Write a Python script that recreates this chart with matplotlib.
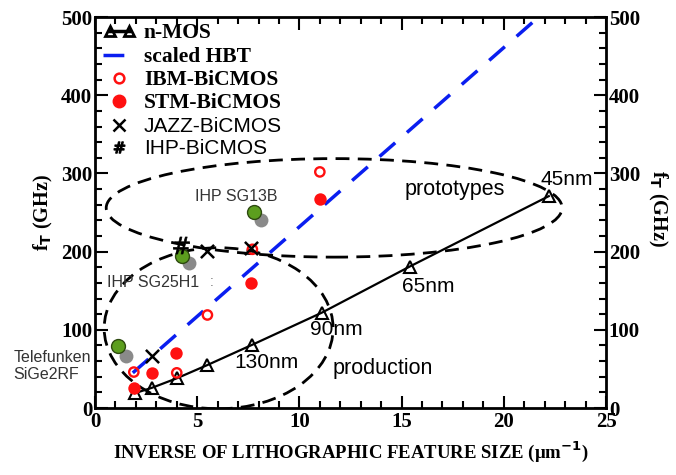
import matplotlib
matplotlib.use('Agg')
import numpy as np
from matplotlib import pyplot as plt
from matplotlib.patches import Ellipse
from matplotlib.lines import Line2D
from matplotlib.legend_handler import HandlerLine2D

# n-MOS roadmap points (inverse feature size, fT)
nmos_x = [1.95, 2.8, 4.0, 5.5, 7.7, 11.1, 15.4, 22.2]
nmos_y = [19, 26, 38, 55, 81, 122, 181, 271]

# scaled HBT trend line
hbt_x = [1.85, 21.7]
hbt_y = [45, 500]

ibm_x = [1.9, 4.0, 5.5, 7.7, 11.0]
ibm_y = [46, 45, 119, 203, 302]

stm_x = [1.9, 2.8, 3.95, 7.65, 11.0]
stm_y = [26, 45, 71, 160, 267]

jazz_x = [2.8, 5.5, 7.65]
jazz_y = [67, 201, 205]

ihp_x = [4.2]
ihp_y = [209]

# highlighted processes (green) and their grey shadows
green_x = [1.13, 4.28, 7.77]
green_y = [79, 194, 251]
gray_x = [1.5, 4.6, 8.1]
gray_y = [67, 186, 241]

# (center x, center y, width, height)
proto_ellipse = (11.7, 256, 22.3, 126)
prod_ellipse = (6.05, 102, 11.2, 206)

node_labels = ['45nm', '65nm', '90nm', '130nm']
node_label_x = [23.1, 16.3, 11.8, 8.4]
node_label_y = [292, 155, 100, 58]

serif = 'Liberation Serif'
sans = 'Liberation Sans'

fig = plt.figure(figsize=(6.76, 4.75), dpi=100)
ax = fig.add_axes([0.1405, 0.141, 0.756, 0.823])

ax.set_xlim(0, 25)
ax.set_ylim(0, 500)

# ellipses
for cx, cy, w, h in [proto_ellipse, prod_ellipse]:
    ax.add_patch(Ellipse((cx, cy), w, h, fill=False, ec='black', lw=2,
                         linestyle=(0, (5, 3)), zorder=2))

ax.plot(hbt_x, hbt_y, color='#0a1ef0', lw=2.5, dashes=(6, 4.5), zorder=3)
ax.plot(nmos_x, nmos_y, color='black', lw=1.6, marker='^', ms=8,
        mfc='none', mec='black', mew=1.5, zorder=4)

ax.scatter(gray_x, gray_y, s=100, color='#8a8a8a', zorder=4, lw=0)
ax.scatter(green_x, green_y, s=100, color='#5c9e1e', edgecolor='#2e4a10',
           lw=1, zorder=5)

ax.scatter(ibm_x, ibm_y, s=45, facecolor='none', edgecolor='#ff1010', lw=1.7, zorder=5)
ax.scatter(stm_x, stm_y, s=80, color='#ff1010', lw=0, zorder=5)
ax.scatter(jazz_x, jazz_y, s=90, marker='x', color='black', lw=1.8, zorder=6)
ax.scatter(ihp_x, ihp_y, s=150, marker='$\\#$', color='black', lw=0.5, zorder=6)

# text annotations
for lab, lx, ly in zip(node_labels, node_label_x, node_label_y):
    ax.text(lx, ly, lab, family=sans, fontsize=15, ha='center', va='center', zorder=7)
ax.text(17.6, 279, 'prototypes', family=sans, fontsize=15.5, ha='center', va='center')
ax.text(14.1, 51, 'production', family=sans, fontsize=15.5, ha='center', va='center')
ax.text(6.9, 271, 'IHP SG13B', family=sans, fontsize=11.5, color='#333333',
        ha='center', va='center')
ax.text(2.85, 161, 'IHP SG25H1', family=sans, fontsize=11.5, color='#333333',
        ha='center', va='center')
ax.text(5.7, 161, ':', family=sans, fontsize=10, color='#777777', ha='center', va='center')
ax.text(-4.0, 54, 'Telefunken\nSiGe2RF', family=sans, fontsize=11.5, color='#333333',
        ha='left', va='center', linespacing=1.15, clip_on=False)

# legend
handles = [
    Line2D([], [], color='black', lw=2.5, marker='^', ms=7, mfc='none', mew=2),
    Line2D([], [], color='#0a1ef0', lw=2.5, dashes=(6, 50)),
    Line2D([], [], ls='none', marker='o', ms=7, mfc='none', mec='#ff1010', mew=1.8),
    Line2D([], [], ls='none', marker='o', ms=9, color='#ff1010'),
    Line2D([], [], ls='none', marker='x', ms=8, color='black', mew=1.8),
    Line2D([], [], ls='none', marker='$\\#$', ms=8, color='black'),
]
labels = ['n-MOS', 'scaled HBT', 'IBM-BiCMOS', 'STM-BiCMOS', 'JAZZ-BiCMOS', 'IHP-BiCMOS']
leg = ax.legend(handles, labels, loc='upper left', frameon=False, handlelength=1.55,
                handletextpad=0.4, labelspacing=0.16, borderaxespad=0.0,
                bbox_to_anchor=(0.0, 1.005), numpoints=1, prop={'size': 15},
                handler_map={handles[0]: HandlerLine2D(numpoints=2)})
for i, t in enumerate(leg.get_texts()):
    if i < 4:
        t.set_family(serif)
        t.set_fontweight('bold')
        t.set_fontsize(15.5)
    else:
        t.set_family(sans)
        t.set_fontsize(15)

# axes styling
for sp in ax.spines.values():
    sp.set_linewidth(2)
ax.set_xticks(np.arange(0, 26, 5))
ax.set_xticks(np.arange(0, 26, 1), minor=True)
ax.set_yticks(np.arange(0, 501, 100))
ax.set_yticks(np.arange(0, 501, 20), minor=True)
ax.tick_params(which='both', direction='in', top=True, right=True,
               labelright=True, width=1.5)
ax.tick_params(which='major', length=9)
ax.tick_params(which='minor', length=5)
ax.yaxis.set_tick_params(labelsize=15, pad=2)
ax.xaxis.set_tick_params(labelsize=15, pad=3)
for tick in ax.xaxis.get_major_ticks() + ax.yaxis.get_major_ticks():
    for lab in (tick.label1, tick.label2):
        lab.set_family(serif)
        lab.set_fontweight('bold')

ax.set_xlabel('INVERSE OF LITHOGRAPHIC FEATURE SIZE (\u03bcm$^{\\mathbf{-1}}$)',
              family=serif, fontweight='bold', fontsize=13.5, labelpad=5)
ax.set_ylabel('f$_\\mathbf{T}$ (GHz)', family=serif, fontweight='bold', fontsize=14.5,
              labelpad=4)
fig.text(0.972, 0.562, 'f$_\\mathbf{T}$ (GHz)', family=serif, fontweight='bold',
         fontsize=14.5, rotation=270, ha='center', va='center')

fig.savefig('out.png', dpi=100)
